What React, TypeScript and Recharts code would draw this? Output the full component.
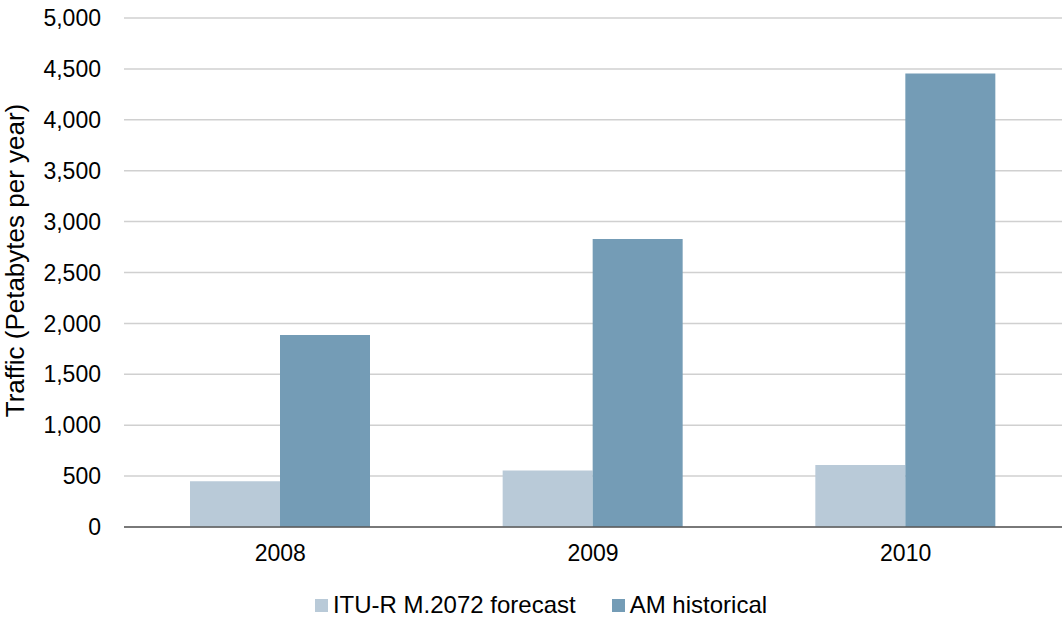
import { BarChart, Bar, XAxis, YAxis, CartesianGrid, Legend } from "recharts";

const years = ["2008", "2009", "2010"];
const forecast = [450, 555, 610];
const historical = [1885, 2830, 4455];
const yTicks = [0, 500, 1000, 1500, 2000, 2500, 3000, 3500, 4000, 4500, 5000];

const series = [
  { key: "forecast", name: "ITU-R M.2072 forecast", color: "#b9cad8" },
  { key: "historical", name: "AM historical", color: "#749cb6" },
];

const data = years.map((year, i) => ({
  year,
  forecast: forecast[i],
  historical: historical[i],
}));

const FONT = "'Liberation Sans', Arial, sans-serif";

function ChartLegend() {
  return (
    <div
      style={{
        height: 40,
        boxSizing: "border-box",
        paddingTop: 13,
        display: "flex",
        justifyContent: "center",
        alignItems: "flex-start",
        fontFamily: FONT,
        fontSize: 24,
        lineHeight: "26px",
        color: "#000",
        paddingLeft: 20,
      }}
    >
      {series.map((s, i) => (
        <div key={s.key} style={{ display: "flex", alignItems: "center", marginRight: i === 0 ? 36 : 0 }}>
          <span style={{ width: 13, height: 13, background: s.color, marginRight: 5, display: "inline-block" }} />
          <span>{s.name}</span>
        </div>
      ))}
    </div>
  );
}

export default function App() {
  return (
    <div style={{ position: "absolute", left: 0, top: 0, background: "#fff" }}>
      <BarChart
        width={1062}
        height={619}
        data={data}
        margin={{ top: 18, right: 0, bottom: 0, left: 0 }}
        barCategoryGap={66}
        barGap={0}
      >
        <CartesianGrid vertical={false} stroke="#d0d0d0" strokeWidth={1.5} />
        <XAxis
          dataKey="year"
          height={52}
          tickLine={false}
          axisLine={{ stroke: "#595959", strokeWidth: 1.5 }}
          tick={{ fill: "#000", fontSize: 23, fontFamily: FONT }}
          tickMargin={12}
        />
        <YAxis
          width={124}
          domain={[0, 5000]}
          ticks={yTicks}
          interval={0}
          axisLine={false}
          tickLine={false}
          tickMargin={17}
          tickFormatter={(v: number) => v.toLocaleString("en-US")}
          tick={{ fill: "#000", fontSize: 23, fontFamily: FONT }}
          label={{
            value: "Traffic (Petabytes per year)",
            angle: -90,
            position: "insideLeft",
            dx: 10,
            dy: -12,
            style: { textAnchor: "middle", fill: "#000", fontSize: 26, fontFamily: FONT },
          }}
        />
        <Legend verticalAlign="bottom" content={<ChartLegend />} />
        {series.map((s) => (
          <Bar key={s.key} dataKey={s.key} name={s.name} fill={s.color} isAnimationActive={false} />
        ))}
      </BarChart>
    </div>
  );
}
